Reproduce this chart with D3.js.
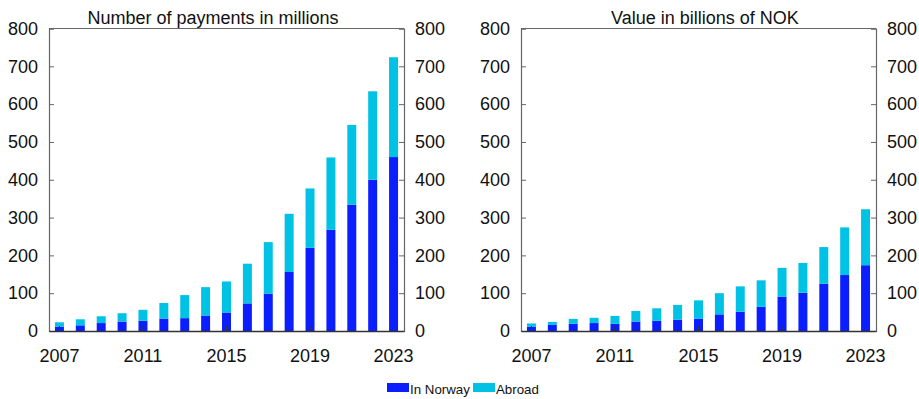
<!DOCTYPE html>
<html><head><meta charset="utf-8">
<script src="https://cdn.jsdelivr.net/npm/d3@7"></script>
<style>body{margin:0;background:#fff}svg{display:block;font-family:"Liberation Sans",Arial,sans-serif}</style>
</head><body><svg id="c" width="919" height="399"></svg>
<script>
const years = [2007,2008,2009,2010,2011,2012,2013,2014,2015,2016,2017,2018,2019,2020,2021,2022,2023];
const yearLabels = [2007,2011,2015,2019,2023];
const yTicks = [0,100,200,300,400,500,600,700,800];
const seriesNames = ["In Norway","Abroad"];
// Number of payments in millions
const countNorway = [11,15,21,25,27,33,34,41,49,73,99,156,220,268,334,400,460];
const countAbroad = [12,16,18,22,29,41,61,75,82,105,136,154,157,191,211,234,264];
// Value in billions of NOK
const valueNorway = [11,16,19,21,19,25,27,30,33,44,51,64,91,101,125,148,174];
const valueAbroad = [9,8,13,14,21,28,33,39,48,56,67,70,76,79,97,126,148];
const titles = ["Number of payments in millions","Value in billions of NOK"];
const colors = ["#0a1eff","#00c2e4"];

const svg = d3.select("#c");
const panels = [
  {x0:49,x1:404,title:titles[0],a:countNorway,b:countAbroad,tx:213},
  {x0:521,x1:876,title:titles[1],a:valueNorway,b:valueAbroad,tx:705}
];
const yTop = 28.5, yBot = 331;

panels.forEach(p => {
  const x = d3.scaleBand().domain(years).range([p.x0,p.x1]).paddingInner(0.57).paddingOuter(0.285);
  const y = d3.scaleLinear().domain([0,800]).range([yBot,yTop]);
  const g = svg.append("g");
  const stack = d3.stack().keys([0,1]).value((d,k)=>d[k+1])(years.map((yr,i)=>[yr,p.a[i],p.b[i]]));
  stack.forEach((s,k)=>{
    g.append("g").selectAll("rect").data(s).join("rect")
      .attr("x",d=>x(d.data[0])).attr("width",x.bandwidth())
      .attr("y",d=>y(d[1])).attr("height",d=>y(d[0])-y(d[1]))
      .attr("fill",colors[k]);
  });
  g.append("line").attr("x1",p.x0).attr("x2",p.x1).attr("y1",yTop).attr("y2",yTop).attr("stroke","#666").attr("stroke-width",1.2);
  const la = g.append("g").attr("transform",`translate(${p.x0},0)`).call(d3.axisLeft(y).tickValues(yTicks).tickSize(-5).tickPadding(11).tickFormat(d3.format("d")));
  const ra = g.append("g").attr("transform",`translate(${p.x1},0)`).call(d3.axisRight(y).tickValues(yTicks).tickSize(-5).tickPadding(11).tickFormat(d3.format("d")));
  [la,ra].forEach(a=>{
    a.select(".domain").attr("stroke","#666").attr("stroke-width",1.2);
    a.selectAll(".tick line").attr("stroke","#666");
    a.selectAll("text").attr("font-size",18).attr("fill","#111").attr("font-family","Liberation Sans, Arial, sans-serif");
  });
  const xa = g.append("g").attr("transform",`translate(0,${yBot})`).call(d3.axisBottom(x).tickValues(yearLabels).tickSize(-5).tickPadding(18).tickSizeOuter(0));
  xa.select(".domain").attr("stroke","#333").attr("stroke-width",1.5);
  xa.selectAll(".tick line").attr("stroke","#333").attr("stroke-width",1.2);
  xa.selectAll("text").attr("font-size",18).attr("fill","#111").attr("font-family","Liberation Sans, Arial, sans-serif");
  g.append("text").attr("x",p.tx).attr("y",24).attr("text-anchor","middle").attr("font-size",18).attr("fill","#111").text(p.title);
});

const lg = svg.append("g");
const items = [{x:387,tx:410},{x:473,tx:496}];
seriesNames.forEach((n,i)=>{
  lg.append("rect").attr("x",items[i].x).attr("y",383).attr("width",22).attr("height",9).attr("fill",colors[i]);
  lg.append("text").attr("x",items[i].tx).attr("y",393.5).attr("font-size",13.3).attr("fill","#111").text(n);
});
</script></body></html>
